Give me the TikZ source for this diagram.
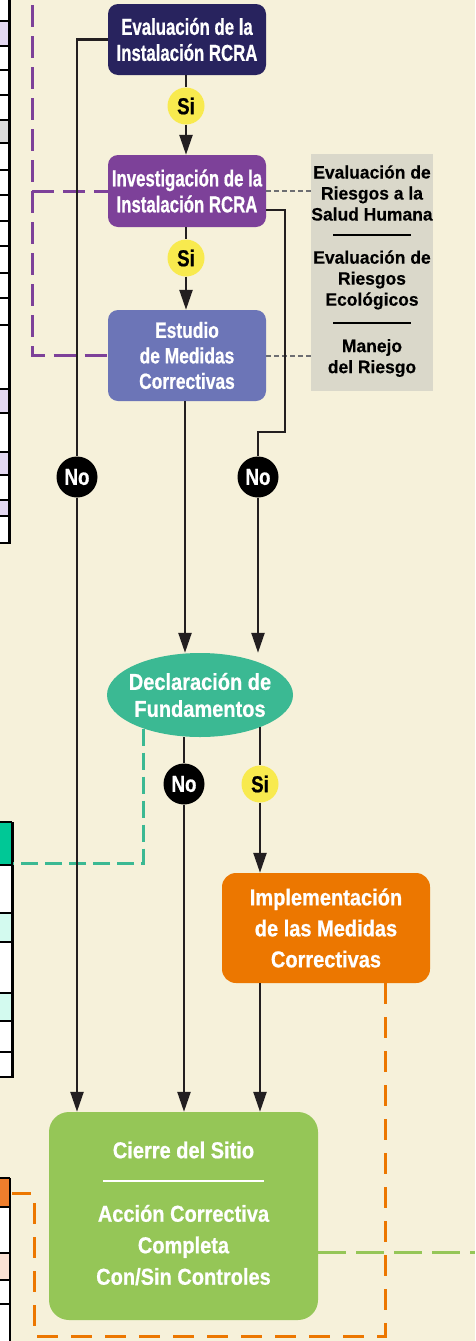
\documentclass[tikz,border=0pt]{standalone}
\usepackage{fontspec}
\usetikzlibrary{arrows.meta,shapes.geometric}
\newfontfamily\cA{Liberation Sans}[FakeStretch=0.73,FakeBold=0.7]
\newfontfamily\cB{Liberation Sans}[FakeStretch=0.79,FakeBold=0.7]
\newfontfamily\cS{Liberation Sans}[FakeStretch=0.815,FakeBold=0.7]
\newfontfamily\cC{Liberation Sans}[FakeStretch=0.87,FakeBold=0.7]
\newfontfamily\cD{Liberation Sans}[FakeStretch=0.97,FakeBold=0.4]
\definecolor{bgc}{HTML}{F6F1DA}
\definecolor{navy}{HTML}{28235E}
\definecolor{purp}{HTML}{7D4199}
\definecolor{estc}{HTML}{6C75B7}
\definecolor{grayb}{HTML}{DAD8CA}
\definecolor{tealc}{HTML}{3BB993}
\definecolor{orng}{HTML}{EC7700}
\definecolor{grn}{HTML}{95C657}
\definecolor{ylw}{HTML}{F8EA4E}
\definecolor{lk}{HTML}{231F20}
\definecolor{gyd}{HTML}{6D6E71}
\definecolor{tpur}{HTML}{E3D8F1}
\definecolor{tgry}{HTML}{DADADA}
\definecolor{tgrn}{HTML}{00C896}
\definecolor{tcyan}{HTML}{D3FAEF}
\definecolor{torg}{HTML}{EF7E2C}
\definecolor{tpch}{HTML}{FBE2D4}
\begin{document}
\begin{tikzpicture}[x=1pt,y=-1pt,
  box/.style={rectangle, rounded corners=10pt, inner sep=0pt, align=center, text=white,
    font=\cA\bfseries\fontsize{23}{26}\selectfont},
  box2/.style={box, font=\cC\bfseries\fontsize{23}{31}\selectfont},
  ln/.style={draw=lk, line width=2.4pt},
  arr/.style={ln, -{Triangle[length=20pt,width=13pt]}},
  sinode/.style={circle, fill=ylw, minimum size=37pt, inner sep=0pt, text=black,
    font=\cS\bfseries\fontsize{23}{23}\selectfont},
  nonode/.style={circle, fill=black, minimum size=41pt, inner sep=0pt, text=white,
    font=\cS\bfseries\fontsize{23}{23}\selectfont},
  gtext/.style={align=center, inner sep=0pt, text=black, font=\cD\bfseries\fontsize{18}{21}\selectfont},
  ctext/.style={align=center, inner sep=0pt, text=white, font=\cC\bfseries\fontsize{23}{31.5}\selectfont},
  etext/.style={align=center, inner sep=0pt, text=white, font=\cC\bfseries\fontsize{23}{27}\selectfont},
  pdash/.style={draw=purp, line width=3pt, dash pattern=on 22pt off 9pt},
  tdash/.style={draw=tealc, line width=3pt, dash pattern=on 17pt off 7pt},
  odash/.style={draw=orng, line width=3pt, dash pattern=on 21pt off 13pt},
  gdash/.style={draw=grn, line width=3pt, dash pattern=on 28pt off 10pt},
  gydash/.style={draw=gyd, line width=2pt, dash pattern=on 5pt off 3pt},
  tline/.style={draw=black, line width=2pt}
]
\useasboundingbox (0,0) rectangle (475,1341);
\fill[bgc] (0,0) rectangle (475,1341);

% table fragment 1
\fill[white] (0,0) rectangle (9,543);
\foreach \a/\b in {21/46,389/413,452/475,500/516} \fill[tpur] (0,\a) rectangle (8,\b);
\fill[tgry] (0,120) rectangle (8,143);
\foreach \y in {21,46,70,95,120,143,170,195,221,246,273,298,325,389,413,452,475,500,516}
  \draw[tline] (0,\y) -- (9,\y);
\draw[tline] (0,543) -- (11,543);
\draw[tline, line width=3pt] (9,0) -- (9,543);

% table fragment 2
\fill[white] (0,822) rectangle (12,1077);
\fill[tgrn] (0,822) rectangle (12,865);
\fill[tcyan] (0,913) rectangle (12,942);
\fill[tcyan] (0,993) rectangle (12,1021);
\foreach \y in {822,865,913,942,993,1021,1052}
  \draw[tline] (0,\y) -- (12,\y);
\draw[tline] (0,1077) -- (14,1077);
\draw[tline, line width=3pt] (12.5,822) -- (12.5,1077);

% table fragment 3
\fill[white] (0,1178) rectangle (10,1341);
\fill[torg] (0,1178) rectangle (10,1207);
\fill[tpch] (0,1253) rectangle (10,1280);
\foreach \y in {1178,1207,1253,1280,1304}
  \draw[tline] (0,\y) -- (10,\y);
\draw[tline, line width=2.5pt] (10,1178) -- (10,1341);

% nodes
\node[box, fill=navy, minimum width=158pt, minimum height=71pt] (eval) at (187,39.5) {Evaluación de la\\Instalación RCRA};
\node[sinode] (si1) at (186,106) {Si};
\node[box, fill=purp, minimum width=158pt, minimum height=72pt] (inv) at (187,191) {Investigación de la\\Instalación RCRA};
\node[sinode] (si2) at (186,258) {Si};
\node[box, fill=estc, minimum width=158pt, minimum height=91pt,
  font=\cB\bfseries\fontsize{22}{25.5}\selectfont] (est) at (187,355.5) {Estudio\\de Medidas\\Correctivas};

\node[fill=grayb, minimum width=122pt, minimum height=237pt, inner sep=0pt] (risk) at (372,272.5) {};
\node[gtext] (g1) at (372,193) {Evaluación de\\Riesgos a la\\Salud Humana};
\draw[black, line width=1.5pt] (333,235) -- (411,235);
\node[gtext] (g2) at (372,280) {Evaluación de\\Riesgos\\Ecológicos};
\draw[black, line width=1.5pt] (333,323) -- (411,323);
\node[gtext] (g3) at (372,358) {Manejo\\del Riesgo};

\node[nonode] (no1) at (77,477) {No};
\node[nonode] (no2) at (258,477) {No};

\node[ellipse, fill=tealc, minimum width=186pt, minimum height=84pt, inner sep=0pt] (decl) at (200,695) {};
\node[etext] (decltext) at (200,695) {Declaración de\\Fundamentos};

\node[nonode] (no3) at (184,784) {No};
\node[sinode] (si3) at (260,784) {Si};

\node[box2, fill=orng, rounded corners=14pt, minimum width=208pt, minimum height=110pt] (impl) at (326,928) {Implementación\\de las Medidas\\Correctivas};

\node[fill=grn, rounded corners=20pt, minimum width=269pt, minimum height=208pt, inner sep=0pt] (cierre) at (183.5,1216) {};
\node[ctext] (c1) at (183.5,1150) {Cierre del Sitio};
\draw[white, line width=2pt] (103,1181) -- (264,1181);
\node[ctext] (c2) at (183.5,1245) {Acción Correctiva\\Completa\\Con/Sin Controles};

% dashed connectors
\coordinate (ptop) at (32,5);
\draw[pdash] (ptop) |- (est.west);
\draw[pdash] (inv.west -| ptop) -- (inv.west);
\draw[gydash] (inv.east) -- (inv.east -| risk.west);
\draw[gydash] (est.east) -- (est.east -| risk.west);
\coordinate (tend) at (13,863);
\draw[tdash] (decl.-149) |- (tend);
\coordinate (oc) at (385,1336);
\coordinate (tab3) at (12,1193);
\draw[odash] (impl.south -| oc) -- (oc) -| (34,1193) -- (tab3);
\coordinate (gend) at (475,1252);
\draw[gdash] (cierre.east |- gend) -- (gend);

% solid connectors
\draw[ln] (eval.south -| si1) -- (si1.north);
\draw[arr] (si1.south) -- (si1.south |- inv.north);
\draw[ln] (inv.south -| si2) -- (si2.north);
\draw[arr] (si2.south) -- (si2.south |- est.north);
\draw[arr] (est.south -| 185,0) -- (185,0 |- decl.north);
\draw[ln] (eval.west) -| (no1.north);
\draw[arr] (no1.south) -- (no1.south |- cierre.north);
\coordinate (invout) at (266,210);
\draw[ln] (invout) -| (285,432) -| (no2.north);
\draw[arr] (no2.south) -- (no2.south |- decl.north);
\draw[ln] (no3.north |- decl.south) -- (no3.north);
\draw[arr] (no3.south) -- (no3.south |- cierre.north);
\draw[ln] (si3.north |- decl.-28) -- (si3.north);
\draw[arr] (si3.south) -- (si3.south |- impl.north);
\draw[arr] (impl.south -| si3) -- (si3 |- cierre.north);
\end{tikzpicture}
\end{document}
